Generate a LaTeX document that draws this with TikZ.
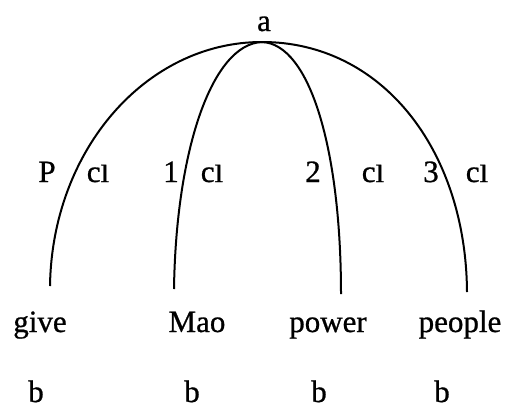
\documentclass[tikz,border=0pt]{standalone}
\usepackage{fontspec}
\setmainfont{Liberation Serif}[FakeBold=0.8]
\usepackage{graphicx}
\begin{document}
\begin{tikzpicture}[x=1pt,y=-1pt,
  lbl/.style={anchor=base,inner sep=0pt,font=\fontsize{31}{36}\selectfont},
  arch/.style={line width=2pt}]
\useasboundingbox (0,0) rectangle (511,410);
\newcommand{\clab}{c\scalebox{1}[0.8]{l}}
\node[lbl] (a) at (264,31) {a};
\coordinate (apex) at (262,42);
\coordinate (e1) at (50,286);
\coordinate (e2) at (174,289);
\coordinate (e3) at (341,294);
\coordinate (e4) at (467,292);
\draw[arch] (apex) .. controls (146,42) and (52,150) .. (e1);
\draw[arch] (apex) .. controls (212,44) and (176,150) .. (e2);
\draw[arch] (apex) .. controls (310,44) and (341,150) .. (e3);
\draw[arch] (apex) .. controls (382,42) and (466,150) .. (e4);
\node[lbl] (p) at (47,182) {P};
\node[lbl] (c1) at (98,182) {\clab};
\node[lbl] (n1) at (171,182) {1};
\node[lbl] (c2) at (212,182) {\clab};
\node[lbl] (n2) at (313,182) {2};
\node[lbl] (c3) at (373,182) {\clab};
\node[lbl] (n3) at (431,182) {3};
\node[lbl] (c4) at (477,182) {\clab};
\node[lbl] (w1) at (40,332) {give};
\node[lbl] (w2) at (197,332) {Mao};
\node[lbl] (w3) at (328,332) {power};
\node[lbl] (w4) at (460,332) {people};
\node[lbl] (b1) at (36,402) {b};
\node[lbl] (b2) at (192,402) {b};
\node[lbl] (b3) at (319,402) {b};
\node[lbl] (b4) at (442,402) {b};
\end{tikzpicture}
\end{document}
